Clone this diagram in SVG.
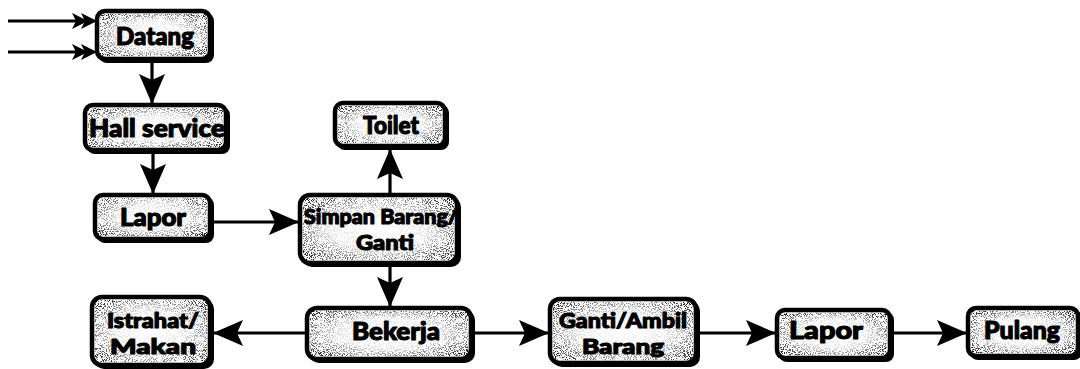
<svg xmlns="http://www.w3.org/2000/svg" width="1080" height="369" viewBox="0 0 1080 369">
  <style>
    .frame { fill: #ffffff; stroke: #000000; stroke-width: 4.5; }
    .shade { fill: #000000; }
    .grain { fill: #ffffff; filter: url(#speckle); mask: url(#edgeMask); }
    .label { font-family: Lato, "DejaVu Sans", "Liberation Sans", sans-serif; font-weight: 900; font-size: 24px; fill: #000000; stroke: #000000; stroke-width: 1.1; stroke-linejoin: round; text-anchor: middle; }
    .two { font-size: 21px; }
    .wire { stroke: #000000; stroke-width: 3.2; fill: none; }
  </style>
  <defs>
    <!-- speckled texture clipped to the shape it is applied to -->
    <filter id="speckle" x="0" y="0" width="1" height="1" color-interpolation-filters="sRGB">
      <feTurbulence type="fractalNoise" baseFrequency="0.95" numOctaves="2" seed="7" result="noise"/>
      <feColorMatrix in="noise" type="matrix" values="0 0 0 0 0  0 0 0 0 0  0 0 0 0 0  10 0 0 0 -5.1" result="dots"/>
      <feComposite in="dots" in2="SourceAlpha" operator="in"/>
    </filter>
    <!-- grain is heaviest near the edges, nearly absent in the middle -->
    <radialGradient id="edgeFade" cx="0.5" cy="0.5" r="0.7">
      <stop offset="0" stop-color="#000"/>
      <stop offset="0.45" stop-color="#222"/>
      <stop offset="0.75" stop-color="#999"/>
      <stop offset="1" stop-color="#fff"/>
    </radialGradient>
    <mask id="edgeMask" maskContentUnits="objectBoundingBox">
      <rect x="0" y="0" width="1" height="1" fill="url(#edgeFade)"/>
    </mask>
    <marker id="head" markerUnits="userSpaceOnUse" markerWidth="32" markerHeight="28" refX="30" refY="13" orient="auto">
      <path d="M0,0 L30,13 L0,26 L6,13 Z" fill="#000"/>
    </marker>
    <path id="chevron" d="M0,-8 L16,0 L0,8 L4,0 Z" fill="#000"/>
  </defs>

  <!-- connectors -->
  <g id="connectors">
    <line class="wire" x1="8" y1="21" x2="92" y2="21"/>
    <use href="#chevron" x="72" y="21"/>
    <use href="#chevron" x="81" y="21"/>
    <line class="wire" x1="8" y1="52" x2="92" y2="52"/>
    <use href="#chevron" x="72" y="52"/>
    <use href="#chevron" x="81" y="52"/>

    <line class="wire" x1="152" y1="62" x2="152" y2="104" marker-end="url(#head)"/>
    <line class="wire" x1="153" y1="153" x2="153" y2="194" marker-end="url(#head)"/>
    <line class="wire" x1="213" y1="222" x2="299" y2="222" marker-end="url(#head)"/>
    <line class="wire" x1="390" y1="194" x2="390" y2="149" marker-end="url(#head)"/>
    <line class="wire" x1="390" y1="266" x2="390" y2="307" marker-end="url(#head)"/>
    <line class="wire" x1="306" y1="333" x2="213" y2="333" marker-end="url(#head)"/>
    <line class="wire" x1="474" y1="333" x2="549" y2="333" marker-end="url(#head)"/>
    <line class="wire" x1="698" y1="333" x2="776" y2="333" marker-end="url(#head)"/>
    <line class="wire" x1="893" y1="333" x2="967" y2="333" marker-end="url(#head)"/>
  </g>

  <g id="datang">
    <rect class="shade" x="99" y="13" width="115" height="50" rx="8"/>
    <rect class="frame" x="97" y="11" width="113" height="48" rx="8"/>
    <rect class="grain" x="99.5" y="13.5" width="108" height="43"/>
    <text class="label" x="155" y="45" textLength="78" lengthAdjust="spacingAndGlyphs">Datang</text>
  </g>

  <g id="hall-service">
    <rect class="shade" x="87" y="107" width="143" height="47" rx="8"/>
    <rect class="frame" x="85" y="105" width="141" height="45" rx="8"/>
    <rect class="grain" x="87.5" y="107.5" width="136" height="40"/>
    <text class="label" x="157" y="137" textLength="136" lengthAdjust="spacingAndGlyphs">Hall service</text>
  </g>

  <g id="lapor-awal">
    <rect class="shade" x="97" y="197" width="117" height="46" rx="8"/>
    <rect class="frame" x="95" y="195" width="115" height="44" rx="8"/>
    <rect class="grain" x="97.5" y="197.5" width="110" height="39"/>
    <text class="label" x="153" y="226" textLength="66" lengthAdjust="spacingAndGlyphs">Lapor</text>
  </g>

  <g id="toilet">
    <rect class="shade" x="337" y="105" width="112" height="45" rx="8"/>
    <rect class="frame" x="335" y="103" width="110" height="43" rx="8"/>
    <rect class="grain" x="337.5" y="105.5" width="105" height="38"/>
    <text class="label" x="391" y="134" textLength="56" lengthAdjust="spacingAndGlyphs">Toilet</text>
  </g>

  <g id="simpan-barang">
    <rect class="shade" x="302" y="197" width="159" height="70" rx="10"/>
    <rect class="frame" x="300" y="195" width="157" height="68" rx="10"/>
    <rect class="grain" x="302.5" y="197.5" width="152" height="63"/>
    <text class="label two" x="381" y="224" textLength="154" lengthAdjust="spacingAndGlyphs">Simpan Barang/</text>
    <text class="label two" x="385" y="250" textLength="58" lengthAdjust="spacingAndGlyphs">Ganti</text>
  </g>

  <g id="istrahat-makan">
    <rect class="shade" x="94" y="299" width="120" height="70" rx="10"/>
    <rect class="frame" x="92" y="297" width="118" height="68" rx="10"/>
    <rect class="grain" x="94.5" y="299.5" width="113" height="63"/>
    <text class="label two" x="153" y="328" textLength="92" lengthAdjust="spacingAndGlyphs">Istrahat/</text>
    <text class="label two" x="153" y="354" textLength="86" lengthAdjust="spacingAndGlyphs">Makan</text>
  </g>

  <g id="bekerja">
    <rect class="shade" x="309" y="310" width="166" height="53" rx="10"/>
    <rect class="frame" x="307" y="308" width="164" height="51" rx="10"/>
    <rect class="grain" x="309.5" y="310.5" width="159" height="46"/>
    <text class="label" x="396" y="340" textLength="88" lengthAdjust="spacingAndGlyphs">Bekerja</text>
  </g>

  <g id="ganti-ambil">
    <rect class="shade" x="552" y="301" width="148" height="66" rx="10"/>
    <rect class="frame" x="550" y="299" width="146" height="64" rx="10"/>
    <rect class="grain" x="552.5" y="301.5" width="141" height="59"/>
    <text class="label two" x="623" y="328" textLength="128" lengthAdjust="spacingAndGlyphs">Ganti/Ambil</text>
    <text class="label two" x="623" y="354" textLength="82" lengthAdjust="spacingAndGlyphs">Barang</text>
  </g>

  <g id="lapor-akhir">
    <rect class="shade" x="779" y="312" width="115" height="50" rx="8"/>
    <rect class="frame" x="777" y="310" width="113" height="48" rx="8"/>
    <rect class="grain" x="779.5" y="312.5" width="108" height="43"/>
    <text class="label" x="826" y="339" textLength="74" lengthAdjust="spacingAndGlyphs">Lapor</text>
  </g>

  <g id="pulang">
    <rect class="shade" x="970" y="310" width="112" height="50" rx="8"/>
    <rect class="frame" x="968" y="308" width="110" height="48" rx="8"/>
    <rect class="grain" x="970.5" y="310.5" width="105" height="43"/>
    <text class="label" x="1022" y="339" textLength="76" lengthAdjust="spacingAndGlyphs">Pulang</text>
  </g>
</svg>
